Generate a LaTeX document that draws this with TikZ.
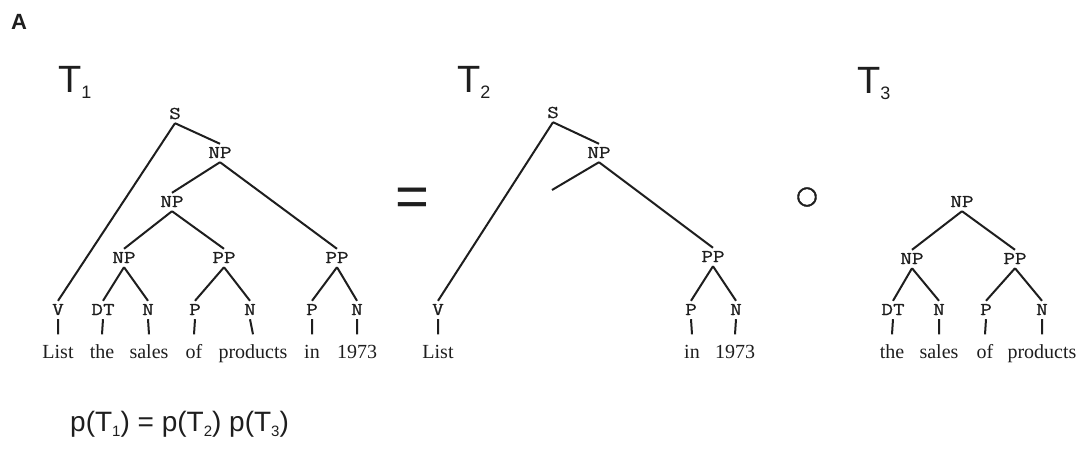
\documentclass[tikz,border=0pt]{standalone}
\usepackage{fontspec}
\setmainfont{Liberation Serif}
\newfontfamily\labelfont{Liberation Sans}
\newfontfamily\catfont{Latin Modern Mono}[FakeStretch=1.25,FakeBold=0.8]
\newfontfamily\symfont{DejaVu Sans}[FakeBold=1.5]
\usetikzlibrary{positioning}
\definecolor{ink}{HTML}{1E1E1E}
\newcommand{\tsub}[1]{\raisebox{-6pt}{\fontsize{18}{18}\selectfont #1}}
\newcommand{\fsub}[1]{\raisebox{-5pt}{\fontsize{15}{15}\selectfont #1}}
\tikzset{
  cat/.style={font=\catfont\fontsize{18}{18}\selectfont,text=ink,inner sep=4pt,
    text height=10pt,text depth=0pt},
  word/.style={font=\fontsize{20}{20}\selectfont,text=ink,inner sep=1.5pt,
    text height=22pt,text depth=5pt,anchor=base},
  branch/.style={line width=2pt,ink},
  treename/.style={font=\labelfont\fontsize{38}{38}\selectfont,text=ink,
    anchor=base west,inner sep=0pt},
  op/.style={text=ink,inner sep=0pt}
}

\begin{document}
\begin{tikzpicture}[x=1pt,y=-1pt]
\useasboundingbox (0,0) rectangle (1078,448);
\node[font=\labelfont\bfseries\fontsize{22}{22}\selectfont,text=ink,anchor=base west,
  inner sep=0pt] (panel) at (11,29) {A};

% T1
\node[treename] (tone) at (58,92) {T\tsub{1}};
\node[cat] (s1) at (175,114) {S};
\node[cat] (npa1) at (220,153) {NP};
\node[cat] (npb1) at (172,202) {NP};
\node[cat] (npc1) at (124,258) {NP};
\node[cat] (ppa1) at (224,258) {PP};
\node[cat] (ppb1) at (337,258) {PP};
\node[cat] (v1) at (58,310) {V};
\node[cat] (dt1) at (103,310) {DT};
\node[cat] (na1) at (148,310) {N};
\node[cat] (pa1) at (195,310) {P};
\node[cat] (nb1) at (250,310) {N};
\node[cat] (pb1) at (312,310) {P};
\node[cat] (nc1) at (357,310) {N};
\node[word] (list1) at (58,358) {List};
\node[word] (the1) at (102,358) {the};
\node[word] (sales1) at (149,358) {sales};
\node[word] (of1) at (194,358) {of};
\node[word] (prod1) at (253,358) {products};
\node[word] (in1) at (312,358) {in};
\node[word] (yr1) at (357,358) {1973};
\draw[branch] (s1.south)--(v1.north) (s1.south)--(npa1.north)
  (npa1.south)--(npb1.north) (npa1.south)--(ppb1.north)
  (npb1.south)--(npc1.north) (npb1.south)--(ppa1.north)
  (npc1.south)--(dt1.north) (npc1.south)--(na1.north)
  (ppa1.south)--(pa1.north) (ppa1.south)--(nb1.north)
  (ppb1.south)--(pb1.north) (ppb1.south)--(nc1.north);
\draw[branch] (v1.south)--(list1.north) (dt1.south)--(the1.north)
  (na1.south)--(sales1.north) (pa1.south)--(of1.north)
  (nb1.south)--(prod1.north) (pb1.south)--(in1.north)
  (nc1.south)--(yr1.north);

\node[op,font=\labelfont\fontsize{58}{58}\selectfont] (eq) at (412,202) {=};

% T2
\node[treename] (ttwo) at (457,92) {T\tsub{2}};
\node[cat] (s2) at (553,113) {S};
\node[cat] (np2) at (599,153) {NP};
\coordinate (cut2) at (552,190);
\node[cat] (pp2) at (713,257) {PP};
\node[cat] (v2) at (438,310) {V};
\node[cat] (p2) at (691,310) {P};
\node[cat] (n2) at (736,310) {N};
\node[word] (list2) at (438,358) {List};
\node[word] (in2) at (692,358) {in};
\node[word] (yr2) at (735,358) {1973};
\draw[branch] (s2.south)--(v2.north) (s2.south)--(np2.north)
  (np2.south)--(cut2) (np2.south)--(pp2.north)
  (pp2.south)--(p2.north) (pp2.south)--(n2.north);
\draw[branch] (v2.south)--(list2.north) (p2.south)--(in2.north)
  (n2.south)--(yr2.north);

\node[op,font=\symfont\fontsize{25}{25}\selectfont] (comp) at (807,197) {○};

% T3
\node[treename] (tthree) at (857,93) {T\tsub{3}};
\node[cat] (np3) at (962,202) {NP};
\node[cat] (npl3) at (912,259) {NP};
\node[cat] (pp3) at (1015,259) {PP};
\node[cat] (dt3) at (893,310) {DT};
\node[cat] (na3) at (939,310) {N};
\node[cat] (p3) at (986,310) {P};
\node[cat] (nb3) at (1042,310) {N};
\node[word] (the3) at (892,358) {the};
\node[word] (sales3) at (939,358) {sales};
\node[word] (of3) at (985,358) {of};
\node[word] (prod3) at (1042,358) {products};
\draw[branch] (np3.south)--(npl3.north) (np3.south)--(pp3.north)
  (npl3.south)--(dt3.north) (npl3.south)--(na3.north)
  (pp3.south)--(p3.north) (pp3.south)--(nb3.north);
\draw[branch] (dt3.south)--(the3.north) (na3.south)--(sales3.north)
  (p3.south)--(of3.north) (nb3.south)--(prod3.north);

\node[font=\labelfont\fontsize{28}{28}\selectfont,text=ink,anchor=base west,
  inner sep=0pt] (prob) at (70,431) {p(T\fsub{1}) = p(T\fsub{2}) p(T\fsub{3})};
\end{tikzpicture}
\end{document}
